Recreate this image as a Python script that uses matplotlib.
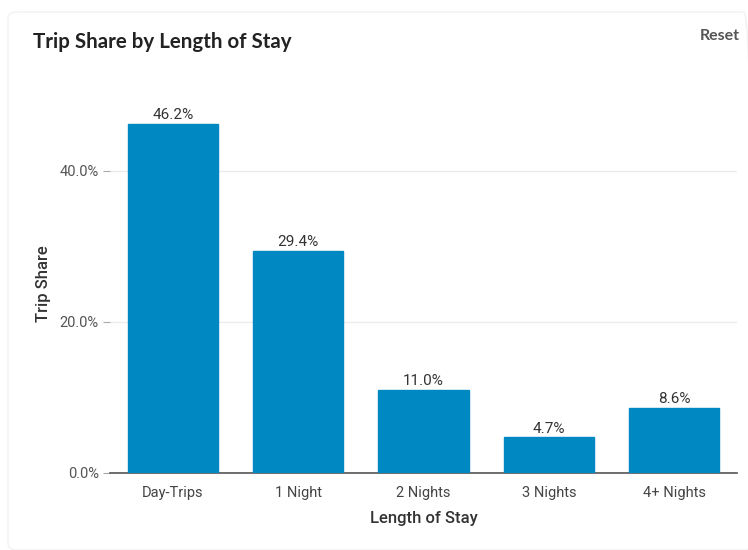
import matplotlib
matplotlib.use("Agg")
import matplotlib.pyplot as plt
from matplotlib.patches import FancyBboxPatch
from matplotlib.ticker import FuncFormatter

categories = ["Day-Trips", "1 Night", "2 Nights", "3 Nights", "4+ Nights"]
shares = [46.2, 29.4, 11.0, 4.7, 8.6]
yticks = [0, 20, 40]

plt.rcParams['font.family'] = ['Roboto', 'DejaVu Sans']

fig = plt.figure(figsize=(7.48, 5.5), dpi=100)
fig.patch.set_facecolor("white")

# card border
card = FancyBboxPatch((8 / 748, 0.0), 745 / 748, 538 / 550,
                      boxstyle="round,pad=0,rounding_size=0.012",
                      transform=fig.transFigure, facecolor="none",
                      edgecolor="#f2f2f2", linewidth=1.0)
fig.patches.append(card)

ax = fig.add_axes([110 / 748, 77 / 550, 627 / 748, 378 / 550])
x = range(len(categories))
bars = ax.bar(x, shares, width=0.72, color="#0088C2", edgecolor="#0088C2", zorder=3)

for b, v in zip(bars, shares):
    ax.text(b.get_x() + b.get_width() / 2, v + 0.2, f"{v:.1f}%",
            ha="center", va="bottom", fontsize=11, color="#333333")

ax.set_xlim(-0.5, len(categories) - 0.5)
ax.set_ylim(0, 50)
ax.set_yticks(yticks)
ax.yaxis.set_major_formatter(FuncFormatter(lambda v, p: f"{v:.1f}%"))
ax.set_xticks(list(x))
ax.set_xticklabels(categories)
ax.grid(axis="y", color="#ebebeb", linewidth=1.0, zorder=0)
for s in ["top", "right", "left"]:
    ax.spines[s].set_visible(False)
ax.spines["bottom"].set_color("#555555")
ax.spines["bottom"].set_linewidth(1.2)
ax.tick_params(axis="y", length=5, color="#aaaaaa", labelsize=10.5, labelcolor="#555555", pad=3)
ax.tick_params(axis="x", length=0, labelsize=10.5, labelcolor="#444444", pad=9)

ax.set_xlabel("Length of Stay", fontsize=12, color="#333333", fontweight="medium", labelpad=8)
ax.set_ylabel("Trip Share", fontsize=12, color="#333333", fontweight="medium", labelpad=6)

fig.text(33 / 748, 1 - 42 / 550, "Trip Share by Length of Stay", fontsize=14.8,
         fontweight="bold", color="#222222", ha="left", va="center",
         family=["Lato", "DejaVu Sans"])
fig.text(740 / 748, 1 - 36 / 550, "Reset", fontsize=11.5, color="#555555",
         ha="right", va="center", fontweight="bold", family=["Lato", "DejaVu Sans"])

fig.savefig("out.png", dpi=100)
